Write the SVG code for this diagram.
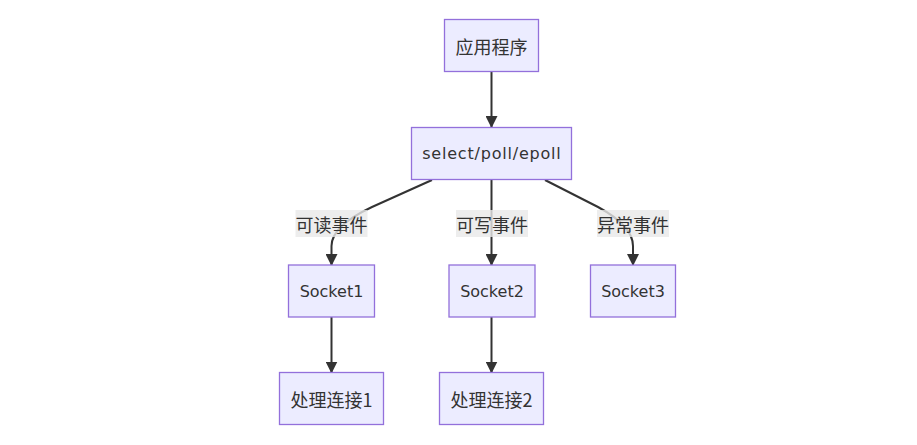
<svg xmlns="http://www.w3.org/2000/svg" width="917" height="445" viewBox="0 0 917 445">
<style>
.node rect{fill:#ECECFF;stroke:#9370DB;stroke-width:1.3px;}
text{fill:#333;text-anchor:middle;dominant-baseline:central;}
.lat{font-family:"DejaVu Sans","Noto Sans CJK SC",sans-serif;font-size:16px;}
.wide{letter-spacing:0.8px;}
.cjk{font-family:"Noto Sans CJK SC",sans-serif;font-size:18px;}
.edge{fill:none;stroke:#333;stroke-width:2px;}
.lbl rect{fill:#e8e8e8;opacity:0.8;}
</style>
<defs>
<marker id="arrow" viewBox="0 0 12 12" refX="11" refY="6" markerWidth="12" markerHeight="12" markerUnits="userSpaceOnUse" orient="auto">
<path d="M0,0 L12,6 L0,12 z" fill="#333"/>
</marker>
</defs>
<rect width="917" height="445" fill="#fff"/>
<g id="connectors">
<path class="edge" d="M491.5,72 L491.5,127" marker-end="url(#arrow)"/>
<path class="edge" d="M432,180 L372,207 Q331.5,226 331.5,246 L331.5,265" marker-end="url(#arrow)"/>
<path class="edge" d="M491.5,180 L491.5,265" marker-end="url(#arrow)"/>
<path class="edge" d="M545,180 L598,207 Q633,226 633,246 L633,265" marker-end="url(#arrow)"/>
<path class="edge" d="M331.5,317 L331.5,372.5" marker-end="url(#arrow)"/>
<path class="edge" d="M491.5,317 L491.5,372.5" marker-end="url(#arrow)"/>
</g>
<g id="edge-labels">
<g class="lbl"><rect x="295.5" y="210" width="72" height="27"/><text class="cjk" x="331.5" y="223.5">可读事件</text></g>
<g class="lbl"><rect x="456" y="210" width="72" height="27"/><text class="cjk" x="492" y="223.5">可写事件</text></g>
<g class="lbl"><rect x="597" y="210" width="72" height="27"/><text class="cjk" x="633" y="223.5">异常事件</text></g>
</g>
<g id="app" class="node"><rect x="444.5" y="19.5" width="94" height="52"/><text class="cjk" x="491.5" y="45.5">应用程序</text></g>
<g id="select" class="node"><rect x="411.5" y="127.5" width="160" height="52"/><text class="lat wide" x="491.9" y="153.5">select/poll/epoll</text></g>
<g id="socket1" class="node"><rect x="288.5" y="265" width="86" height="52"/><text class="lat" x="331.5" y="291">Socket1</text></g>
<g id="socket2" class="node"><rect x="449" y="265" width="86" height="52"/><text class="lat" x="492" y="291">Socket2</text></g>
<g id="socket3" class="node"><rect x="590.5" y="265" width="85" height="52"/><text class="lat" x="633" y="291">Socket3</text></g>
<g id="handle1" class="node"><rect x="279.5" y="372.5" width="104" height="52"/><text class="cjk" x="331.5" y="398.5">处理连接1</text></g>
<g id="handle2" class="node"><rect x="439.5" y="372.5" width="104" height="52"/><text class="cjk" x="491.5" y="398.5">处理连接2</text></g>
</svg>
